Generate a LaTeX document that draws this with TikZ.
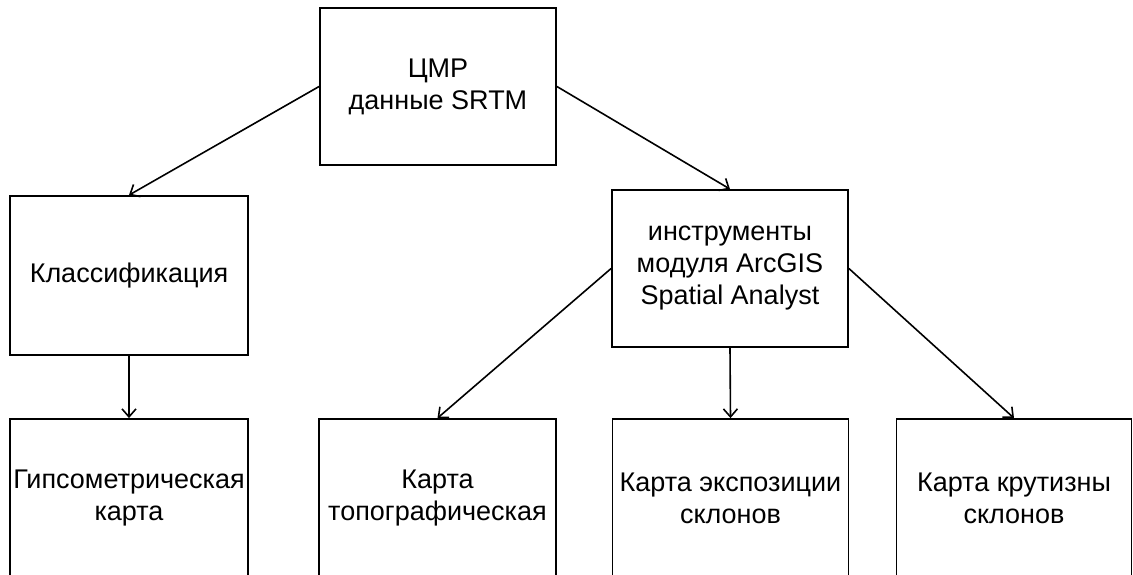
\documentclass[tikz,border=0pt]{standalone}
\usepackage{fontspec}
\setmainfont{Liberation Sans}
\usetikzlibrary{arrows.meta}
\begin{document}
\begin{tikzpicture}[x=1pt,y=-1pt,
  box/.style={draw,line width=1.8pt,minimum width=236pt,minimum height=157pt,inner sep=0pt,align=center,
    font=\fontsize{27}{32}\selectfont},
  arr/.style={line width=1.6pt,-{Straight Barb[length=8pt,width=14pt,line width=1.6pt]}}]
\useasboundingbox (0,0) rectangle (1133,575);
\clip (0,0) rectangle (1133,575);
\fill[white] (0,0) rectangle (1133,575);
\node[box] (dem) at (438,86.5) {ЦМР\\данные SRTM};
\node[box,minimum width=238pt,minimum height=159pt] (cls) at (129,275.5) {Классификация};
\node[box] (ins) at (730,268.5) {инструменты\\модуля ArcGIS\\Spatial Analyst};
\node[box,minimum width=238pt,minimum height=158pt] (hyp) at (129,498) {Гипсометрическая\\карта};
\node[box,minimum width=237pt,minimum height=158pt] (topo) at (437.5,498) {Карта\\топографическая};
\node[box,minimum width=236pt,minimum height=158pt] (exp) at (730.5,498) {Карта экспозиции\\склонов};
\node[box,minimum width=235pt,minimum height=158pt] (slp) at (1014,498) {Карта крутизны\\склонов};
\draw[arr] (dem.west) -- (cls.north);
\draw[arr] (dem.east) -- (ins.north);
\draw[arr] (cls.south) -- (hyp.north);
\draw[arr] (ins.west) -- (topo.north);
\draw[arr] (ins.south) -- (exp.north);
\draw[arr] (ins.east) -- (slp.north);
\end{tikzpicture}
\end{document}
